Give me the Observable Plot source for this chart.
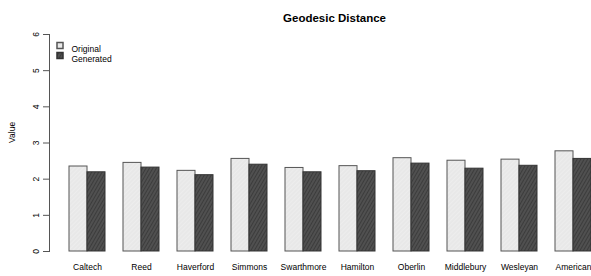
<!DOCTYPE html>
<html>
<head>
<meta charset="utf-8">
<script src="https://cdn.jsdelivr.net/npm/d3@7"></script>
<script src="https://cdn.jsdelivr.net/npm/@observablehq/plot@0.6"></script>
<style>
  body { margin: 0; background: #fff; }
  #chart svg { font-family: "Liberation Sans", Arial, sans-serif; }
</style>
</head>
<body>
<svg width="0" height="0" style="position:absolute">
  <defs>
    <pattern id="hatchOrig" patternUnits="userSpaceOnUse" width="3" height="3" patternTransform="rotate(45)">
      <rect width="3" height="3" fill="#e8e8e8"></rect>
      <line x1="0" y1="0" x2="0" y2="3" stroke="#f2f2f2" stroke-width="1"></line>
    </pattern>
    <pattern id="hatchGen" patternUnits="userSpaceOnUse" width="3" height="3" patternTransform="rotate(30)">
      <rect width="3" height="3" fill="#505050"></rect>
      <line x1="0" y1="0" x2="0" y2="3" stroke="#2e2e2e" stroke-width="1.2"></line>
    </pattern>
  </defs>
</svg>
<div id="chart"></div>
<script>
const schools = ["Caltech","Reed","Haverford","Simmons","Swarthmore","Hamilton","Oberlin","Middlebury","Wesleyan","American"];
const original = [2.35, 2.45, 2.23, 2.56, 2.31, 2.36, 2.58, 2.51, 2.54, 2.77];
const generated = [2.19, 2.32, 2.11, 2.40, 2.19, 2.22, 2.43, 2.29, 2.37, 2.56];
const yTicks = [0, 1, 2, 3, 4, 5, 6];
const seriesNames = ["Original", "Generated"];
const title = "Geodesic Distance";
const yLabel = "Value";

const rows = schools.map((s, i) => ({school: s, original: original[i], generated: generated[i]}));

const plot = Plot.plot({
  width: 591,
  height: 276,
  marginLeft: 51,
  marginRight: 0,
  marginTop: 34,
  marginBottom: 25,
  style: {fontFamily: "Liberation Sans, Arial, sans-serif", fontSize: "9px", background: "#fff", overflow: "visible"},
  x: {type: "band", domain: schools, paddingInner: 1/3, paddingOuter: 1/6, align: 1},
  y: {domain: [0, 6]},
  marks: [
    Plot.barY(rows, {x: "school", y: "original", insetRight: 18, fill: "url(#hatchOrig)", stroke: "#555", strokeWidth: 1}),
    Plot.barY(rows, {x: "school", y: "generated", insetLeft: 18, fill: "url(#hatchGen)", stroke: "#333", strokeWidth: 1}),
    Plot.axisX({tickSize: 0, tickPadding: 12, fontSize: 8.5, fill: "#000", label: null}),
    Plot.axisY(yTicks, {tickSize: 6, tickPadding: 5, dx: -2, tickRotate: -90, textAnchor: "middle", fontSize: 8.5, fill: "#000", stroke: "#555", label: null}),
    Plot.frame({anchor: "left", dx: -2, stroke: "#555"}),
    Plot.text([yLabel], {frameAnchor: "left", dx: -39, rotate: -90, fontSize: 8.5, fill: "#000"}),
    Plot.text([title], {frameAnchor: "top", dx: 13, dy: -21, fontSize: 11.5, fontWeight: "bold", fill: "#000"}),
    Plot.dot([seriesNames[0]], {frameAnchor: "top-left", dx: 8.5, dy: 11, symbol: "square", r: 3.4, fill: "url(#hatchOrig)", stroke: "#555"}),
    Plot.dot([seriesNames[1]], {frameAnchor: "top-left", dx: 8.5, dy: 21, symbol: "square", r: 3.4, fill: "url(#hatchGen)", stroke: "#333"}),
    Plot.text([seriesNames[0]], {frameAnchor: "top-left", dx: 20, dy: 11, textAnchor: "start", fontSize: 8.5, fill: "#000"}),
    Plot.text([seriesNames[1]], {frameAnchor: "top-left", dx: 20, dy: 21, textAnchor: "start", fontSize: 8.5, fill: "#000"})
  ]
});
document.getElementById("chart").appendChild(plot);
</script>
</body>
</html>
